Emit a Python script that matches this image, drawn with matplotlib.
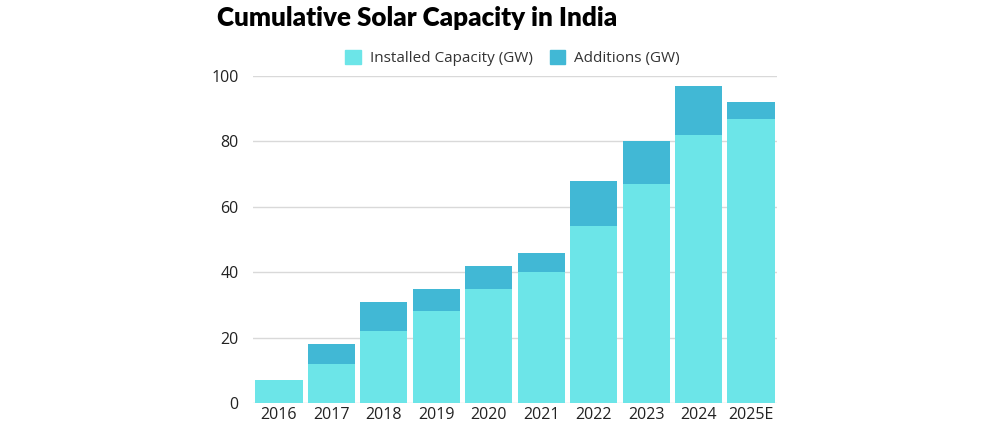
import numpy as np
import matplotlib.pyplot as plt
from matplotlib.patches import Patch

# data
years = ['2016', '2017', '2018', '2019', '2020', '2021', '2022', '2023', '2024', '2025E']
installed = [7, 12, 22, 28, 35, 40, 54, 67, 82, 87]
additions = [0, 6, 9, 7, 7, 6, 14, 13, 15, 5]

c_inst = '#6ce5e8'
c_add = '#41b8d5'

plt.rcParams['font.family'] = ['Open Sans', 'DejaVu Sans']

fig = plt.figure(figsize=(9.99, 4.23), dpi=100)
ax = fig.add_axes([0.253, 0.0473, 0.525, 0.773])

x = np.arange(len(years))
ax.bar(x, installed, width=0.9, color=c_inst, zorder=3)
ax.bar(x, additions, bottom=installed, width=0.9, color=c_add, zorder=3)

ax.set_xlim(-0.5, len(years) - 0.5)
ax.set_ylim(0, 100)
ax.set_yticks([0, 20, 40, 60, 80, 100])
ax.set_xticks(x)
ax.set_xticklabels(years)
ax.tick_params(length=0, labelsize=11.5, colors='#222222')
ax.tick_params(axis='y', pad=10)
ax.tick_params(axis='x', pad=3)
ax.grid(axis='y', color='#d9d9d9', linewidth=1, zorder=0)
for s in ax.spines.values():
    s.set_visible(False)

fig.text(0.217, 0.985, 'Cumulative Solar Capacity in India', fontsize=18.7,
         fontweight='heavy', family=['Lato', 'DejaVu Sans'], va='top', ha='left')

handles = [Patch(color=c_inst, label='Installed Capacity (GW)'),
           Patch(color=c_add, label='Additions (GW)')]
fig.legend(handles=handles, loc='center', bbox_to_anchor=(0.513, 0.862), ncol=2,
           frameon=False, fontsize=11, handlelength=1.0, handleheight=1.0,
           columnspacing=1.1, handletextpad=0.6, labelcolor='#333333')

fig.savefig('out.png', dpi=100)
